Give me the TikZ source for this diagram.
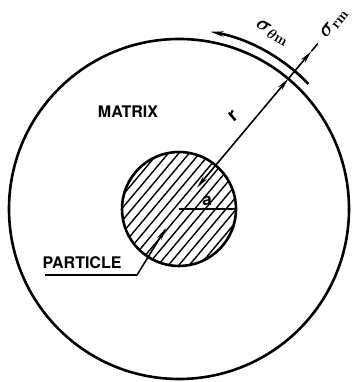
\documentclass[tikz,border=0pt]{standalone}
\usepackage{fontspec}
\setsansfont{TeX Gyre Heros}
\usetikzlibrary{arrows.meta}

\begin{document}
\begin{tikzpicture}[x=1pt, y=1pt,
    bold line/.style={line width=2.6pt},
    thin line/.style={line width=1.6pt},
    hatch/.style={line width=1.4pt},
    tip/.style={-{Stealth[length=13pt, width=5pt]}},
    name text/.style={font=\sffamily\bfseries\fontsize{16}{18}\selectfont},
    stress text/.style={font=\fontsize{21}{22}\selectfont\boldmath, inner sep=0pt}]
    \useasboundingbox (0,0) rectangle (352,382);
    \coordinate (O) at (179,173);

    % Matrix (outer circle)
    \draw[bold line] (O) circle (170);

    % Particle with hatching
    \begin{scope}[shift={(O)}, rotate=50]
        \clip (0,0) circle (57);
        \foreach \y in {-52,-44,...,52} {
            \draw[hatch] (-60,\y) -- (60,\y);
        }
    \end{scope}
    \draw[bold line] (O) circle (57);

    % Radial line r and the stresses at the boundary
    \begin{scope}[shift={(O)}]
        \coordinate (a1) at (57,0);
        \coordinate (r0) at (50:28);
        \coordinate (r1) at (50:170);
        \coordinate (s0) at (50:171);
        \coordinate (s1) at (50:206);
        \coordinate (s2) at (50:216);
        \coordinate (t0) at (80:180);
    \end{scope}

    % Radius a of the particle
    \draw[bold line] (O) -- (a1);
    \node[font=\sffamily\bfseries\fontsize{17}{18}\selectfont, inner sep=0pt] (alab) at (207,181) {a};

    \draw[thin line, {Stealth[length=13pt, width=5pt]}-{Stealth[length=13pt, width=5pt]}] (r0) -- (r1);
    \draw[thin line, tip] (s0) -- (s1);
    \draw[thin line] (s1) -- (s2);
    \draw[bold line, {Stealth[length=13pt, width=5pt]}-] (t0) arc[start angle=80, end angle=44, radius=180];
    \node[name text, font=\sffamily\bfseries\fontsize{19}{20}\selectfont, rotate=40] (rlab) at (233,266) {r};

    % Stress labels
    \node[stress text, rotate=-30] (sth) at (272,349) {$\sigma_{\theta\mathrm{m}}$};
    \node[stress text, rotate=52] (srm) at (334,358) {$\sigma_{\mathrm{rm}}$};

    % Text labels
    \node[name text] (matrix) at (128,270) {MATRIX};
    \node[name text] (particle) at (82,119) {PARTICLE};
    \coordinate (l0) at (45,107);
    \coordinate (l1) at (137,107);
    \coordinate (l2) at (166,154);
    \draw[thin line, tip] (l0) -- (l1) -- (l2);
\end{tikzpicture}
\end{document}
